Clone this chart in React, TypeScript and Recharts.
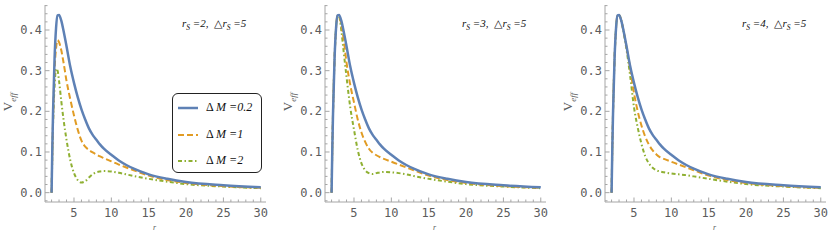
import { Line, LineChart, XAxis, YAxis } from "recharts";

// radial coordinate r (shared by every curve)
const rValues = [2, 2.1, 2.2, 2.4, 2.6, 2.8, 3, 3.3, 3.6, 4, 4.5, 5, 5.5, 6, 6.5, 7, 7.5, 8, 8.5, 9, 10, 11, 12, 13, 15, 17.5, 20, 25, 30];

// ΔM = 0.2, looks the same in all three panels
const blueCurve = [0, 0.11, 0.2, 0.33, 0.405, 0.436, 0.437, 0.423, 0.398, 0.36, 0.31, 0.27, 0.235, 0.205, 0.18, 0.158, 0.142, 0.13, 0.118, 0.108, 0.093, 0.079, 0.068, 0.059, 0.045, 0.034, 0.026, 0.018, 0.013];

// r_S = 2
const orangeRs2 = [0, 0.1, 0.18, 0.3, 0.355, 0.375, 0.37, 0.35, 0.32, 0.275, 0.23, 0.19, 0.155, 0.128, 0.113, 0.105, 0.099, 0.094, 0.089, 0.085, 0.077, 0.069, 0.062, 0.055, 0.042, 0.031, 0.024, 0.016, 0.012];
const greenRs2 = [0, 0.09, 0.17, 0.26, 0.305, 0.3, 0.275, 0.225, 0.18, 0.13, 0.08, 0.048, 0.031, 0.025, 0.028, 0.037, 0.045, 0.05, 0.052, 0.053, 0.052, 0.049, 0.045, 0.041, 0.034, 0.027, 0.021, 0.015, 0.011];

// r_S = 3
const orangeRs3 = [0, 0.11, 0.2, 0.33, 0.405, 0.435, 0.435, 0.413, 0.38, 0.32, 0.265, 0.222, 0.18, 0.148, 0.125, 0.108, 0.098, 0.092, 0.087, 0.083, 0.076, 0.069, 0.062, 0.055, 0.042, 0.031, 0.024, 0.016, 0.012];
const greenRs3 = [0, 0.11, 0.2, 0.33, 0.405, 0.434, 0.433, 0.4, 0.35, 0.285, 0.21, 0.155, 0.105, 0.072, 0.055, 0.048, 0.046, 0.048, 0.05, 0.051, 0.05, 0.048, 0.045, 0.041, 0.034, 0.027, 0.021, 0.015, 0.011];

// r_S = 4
const orangeRs4 = [0, 0.11, 0.2, 0.33, 0.405, 0.436, 0.437, 0.423, 0.398, 0.358, 0.305, 0.245, 0.2, 0.165, 0.138, 0.118, 0.104, 0.094, 0.087, 0.083, 0.076, 0.069, 0.062, 0.055, 0.042, 0.031, 0.024, 0.016, 0.012];
const greenRs4 = [0, 0.11, 0.2, 0.33, 0.405, 0.436, 0.437, 0.423, 0.396, 0.352, 0.285, 0.21, 0.16, 0.12, 0.09, 0.072, 0.061, 0.055, 0.052, 0.05, 0.047, 0.045, 0.043, 0.04, 0.034, 0.027, 0.021, 0.015, 0.011];

const xTicks = [2, 3, 4, 5, 6, 7, 8, 9, 10, 11, 12, 13, 14, 15, 16, 17, 18, 19, 20, 21, 22, 23, 24, 25, 26, 27, 28, 29, 30];
const yTicks = [-0.02, 0, 0.02, 0.04, 0.06, 0.08, 0.1, 0.12, 0.14, 0.16, 0.18, 0.2, 0.22, 0.24, 0.26, 0.28, 0.3, 0.32, 0.34, 0.36, 0.38, 0.4, 0.42, 0.44, 0.46];

const panels = [
  { rs: 2, orange: orangeRs2, green: greenRs2 },
  { rs: 3, orange: orangeRs3, green: greenRs3 },
  { rs: 4, orange: orangeRs4, green: greenRs4 },
];

const BLUE = "#5e81b5";
const ORANGE = "#e19c24";
const GREEN = "#8fb032";
const FRAME = "#a6a6a6";
const LABEL = "#5c5c5c";
const MONO = "'DejaVu Sans Mono', monospace";
const SERIF = "'Liberation Serif', 'DejaVu Serif', serif";

const X_DOMAIN = [1.12, 30.7];
const Y_DOMAIN = [-0.023, 0.4615];

const isMajorX = (v: number) => v % 5 === 0;
const isMajorY = (v: number) => Math.round(v * 100) % 10 === 0;

function XTick(props: any) {
  const { x, y, payload, side } = props;
  const v = payload.value;
  const len = isMajorX(v) ? 4.5 : 2.5;
  const dir = side === "bottom" ? -1 : 1;
  return (
    <g>
      <line x1={x} x2={x} y1={y} y2={y + dir * len} stroke={FRAME} strokeWidth={1} />
      {side === "bottom" && isMajorX(v) && (
        <text x={x} y={y + 11} textAnchor="middle" dominantBaseline="central" fontFamily={MONO} fontSize={12} fill={LABEL}>
          {v}
        </text>
      )}
    </g>
  );
}

function YTick(props: any) {
  const { x, y, payload, side } = props;
  const v = payload.value;
  const len = isMajorY(v) ? 4.5 : 2.5;
  const dir = side === "left" ? 1 : -1;
  return (
    <g>
      <line x1={x} x2={x + dir * len} y1={y} y2={y} stroke={FRAME} strokeWidth={1} />
      {side === "left" && isMajorY(v) && (
        <text x={x - 3} y={y} textAnchor="end" dominantBaseline="central" fontFamily={MONO} fontSize={12} fill={LABEL}>
          {v.toFixed(1)}
        </text>
      )}
    </g>
  );
}

const axisCommon = {
  type: "number" as const,
  allowDataOverflow: true,
  interval: 0 as const,
  tickLine: false,
  tickSize: 0,
  tickMargin: 0,
  axisLine: { stroke: FRAME },
};

function Legend() {
  const rows = [
    { color: BLUE, dash: undefined, width: 2.5, label: "0.2" },
    { color: ORANGE, dash: "6 3", width: 2, label: "1" },
    { color: GREEN, dash: "4 2.5 1.5 2.5", width: 2, label: "2" },
  ];
  return (
    <div
      style={{
        position: "absolute",
        left: 172,
        top: 93,
        width: 88,
        height: 78,
        border: "1px solid #222",
        borderRadius: 6,
        background: "#fff",
      }}
    >
      {rows.map((row, i) => (
        <div key={i} style={{ position: "absolute", left: 0, top: 5 + i * 26.5, height: 18, width: 88 }}>
          <svg width={22} height={18} style={{ position: "absolute", left: 5, top: 0 }}>
            <line x1={0} x2={20} y1={9} y2={9} stroke={row.color} strokeWidth={row.width} strokeDasharray={row.dash} />
          </svg>
          <span
            style={{
              position: "absolute",
              left: 33,
              top: 1,
              fontFamily: SERIF,
              fontSize: 12,
              color: "#111",
              whiteSpace: "nowrap",
            }}
          >
            Δ <i>M</i> <i>=</i>
            <i>{row.label}</i>
          </span>
        </div>
      ))}
    </div>
  );
}

function Panel({ rs, orange, green, showLegend }: { rs: number; orange: number[]; green: number[]; showLegend: boolean }) {
  const data = rValues.map((r, i) => ({ r, blue: blueCurve[i], orange: orange[i], green: green[i] }));
  return (
    <div style={{ position: "relative", width: 280, height: 241, flex: "0 0 280px" }}>
      <LineChart width={280} height={241} data={data} margin={{ top: 5, right: 14, left: 0, bottom: 0 }}>
        <XAxis
          {...axisCommon}
          dataKey="r"
          xAxisId="b"
          orientation="bottom"
          height={39}
          domain={X_DOMAIN}
          ticks={xTicks}
          tick={(p: any) => <XTick {...p} side="bottom" />}
        />
        <XAxis
          {...axisCommon}
          dataKey="r"
          xAxisId="t"
          orientation="top"
          height={0}
          domain={X_DOMAIN}
          ticks={xTicks}
          tick={(p: any) => <XTick {...p} side="top" />}
        />
        <YAxis
          {...axisCommon}
          yAxisId="l"
          orientation="left"
          width={45}
          domain={Y_DOMAIN}
          ticks={yTicks}
          tick={(p: any) => <YTick {...p} side="left" />}
        />
        <YAxis
          {...axisCommon}
          yAxisId="r"
          orientation="right"
          width={0}
          domain={Y_DOMAIN}
          ticks={yTicks}
          tick={(p: any) => <YTick {...p} side="right" />}
        />
        <Line xAxisId="b" yAxisId="l" type="monotone" dataKey="green" stroke={GREEN} strokeWidth={2} strokeDasharray="4 2.5 1.5 2.5" dot={false} isAnimationActive={false} />
        <Line xAxisId="b" yAxisId="l" type="monotone" dataKey="orange" stroke={ORANGE} strokeWidth={2} strokeDasharray="6 3" dot={false} isAnimationActive={false} />
        <Line xAxisId="b" yAxisId="l" type="monotone" dataKey="blue" stroke={BLUE} strokeWidth={2.5} dot={false} isAnimationActive={false} />
      </LineChart>

      {/* y axis title */}
      <div
        style={{
          position: "absolute",
          left: 9,
          top: 102,
          transform: "translate(-50%, -50%) rotate(-90deg)",
          fontFamily: SERIF,
          fontSize: 13,
          color: LABEL,
          whiteSpace: "nowrap",
        }}
      >
        V<sub style={{ fontSize: 9, fontStyle: "italic" }}>eff</sub>
      </div>

      {/* x axis title */}
      <div style={{ position: "absolute", left: 153, top: 223, fontFamily: SERIF, fontSize: 8, fontStyle: "italic", color: LABEL }}>r</div>

      {/* parameter note */}
      <div
        style={{
          position: "absolute",
          left: 182,
          top: 17,
          fontFamily: SERIF,
          fontSize: 11,
          fontStyle: "italic",
          color: "#111",
          whiteSpace: "nowrap",
        }}
      >
        r<sub style={{ fontSize: 7.5 }}>S</sub> ={rs}, &nbsp;△r<sub style={{ fontSize: 7.5 }}>S</sub> =5
      </div>

      {showLegend && <Legend />}
    </div>
  );
}

export default function App() {
  return (
    <div style={{ position: "absolute", left: 0, top: 0, width: 830, height: 241, overflow: "hidden", display: "flex", background: "#fff" }}>
      {panels.map((p, i) => (
        <Panel key={p.rs} rs={p.rs} orange={p.orange} green={p.green} showLegend={i === 0} />
      ))}
    </div>
  );
}
